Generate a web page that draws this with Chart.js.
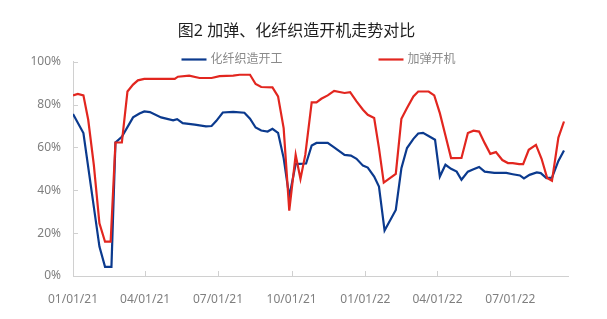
<!DOCTYPE html>
<html>
<head>
<meta charset="utf-8">
<script src="https://cdn.jsdelivr.net/npm/chart.js@4.4.1/dist/chart.umd.min.js"></script>
<style>
  html, body { margin: 0; padding: 0; background: #ffffff; }
  #wrap { width: 607px; height: 319px; }
</style>
</head>
<body>
<div id="wrap"><canvas id="c" width="607" height="319"></canvas></div>
<script>
// ---- data ----
const titleText = '图2 加弹、化纤织造开机走势对比';
const seriesNames = ['化纤织造开工', '加弹开机'];

const fiberDates = [
  '2021-01-01','2021-01-14','2021-02-03','2021-02-10','2021-02-18','2021-02-23','2021-03-03','2021-03-17',
  '2021-03-25','2021-03-31','2021-04-07','2021-04-21','2021-05-06','2021-05-11','2021-05-18','2021-06-02',
  '2021-06-16','2021-06-23','2021-06-29','2021-07-07','2021-07-20','2021-08-03','2021-08-10','2021-08-17',
  '2021-08-24','2021-09-01','2021-09-07','2021-09-14','2021-09-21','2021-09-28','2021-10-06','2021-10-19',
  '2021-10-26','2021-11-01','2021-11-15','2021-11-23','2021-12-06','2021-12-14','2021-12-21','2021-12-29',
  '2022-01-04','2022-01-12','2022-01-18','2022-01-25','2022-02-08','2022-02-15','2022-02-22','2022-03-02',
  '2022-03-08','2022-03-14','2022-03-22','2022-03-29','2022-04-04','2022-04-11','2022-04-18','2022-04-25',
  '2022-05-01','2022-05-09','2022-05-16','2022-05-23','2022-05-30','2022-06-11','2022-06-26','2022-07-04',
  '2022-07-13','2022-07-18','2022-07-25','2022-08-03','2022-08-08','2022-08-15','2022-08-22','2022-08-30',
  '2022-09-06'
];
const fiberValues = [
  75.6,66.7,13.7,4.3,4.3,62.3,65.0,74.0,
  75.8,76.8,76.5,74.0,72.6,73.2,71.3,70.6,
  69.8,70.0,72.4,76.3,76.6,76.2,73.4,69.3,
  67.9,67.4,68.7,66.8,55.0,37.0,52.2,52.5,
  60.9,62.1,62.1,60.0,56.5,56.2,54.7,51.5,
  50.6,46.4,41.7,21.2,30.8,50.3,59.7,64.0,
  66.5,66.8,65.1,63.6,46.4,51.9,50.0,48.7,
  44.9,48.7,49.8,50.9,48.7,48.1,48.1,47.5,
  46.9,45.5,47.2,48.3,48.0,45.7,45.9,53.7,
  58.6
];

const texturingDates = [
  '2021-01-01','2021-01-07','2021-01-14','2021-01-20','2021-01-27','2021-02-03','2021-02-10','2021-02-17',
  '2021-02-23','2021-03-03','2021-03-10','2021-03-17','2021-03-23','2021-03-31','2021-05-08','2021-05-12',
  '2021-05-26','2021-06-08','2021-06-23','2021-07-03','2021-07-20','2021-07-28','2021-08-10','2021-08-17',
  '2021-08-24','2021-09-07','2021-09-14','2021-09-21','2021-09-28','2021-10-06','2021-10-12','2021-10-18',
  '2021-10-26','2021-11-01','2021-11-07','2021-11-15','2021-11-23','2021-12-06','2021-12-13','2021-12-21',
  '2021-12-29','2022-01-04','2022-01-12','2022-01-18','2022-01-24','2022-02-08','2022-02-15','2022-02-22',
  '2022-03-02','2022-03-08','2022-03-21','2022-03-28','2022-04-04','2022-04-11','2022-04-18','2022-05-01',
  '2022-05-09','2022-05-16','2022-05-23','2022-05-30','2022-06-06','2022-06-13','2022-06-21','2022-06-28',
  '2022-07-04','2022-07-12','2022-07-17','2022-07-24','2022-08-02','2022-08-09','2022-08-16','2022-08-22',
  '2022-08-30','2022-09-06'
];
const texturingValues = [
  84.3,85.0,84.3,72.9,51.9,24.6,16.0,16.0,
  62.3,62.3,86.1,89.3,91.3,92.0,92.0,93.0,
  93.5,92.4,92.4,93.3,93.5,93.9,93.9,89.6,
  88.2,88.0,83.8,69.0,30.5,56.5,45.3,56.5,
  81.0,81.0,82.7,84.3,86.4,85.4,85.8,81.5,
  77.6,75.2,73.7,59.7,43.6,47.7,73.4,78.4,
  83.8,86.1,86.1,84.3,76.0,65.6,55.0,55.1,
  66.7,67.8,67.4,62.0,57.0,57.8,54.1,52.7,
  52.7,52.2,52.2,58.9,61.2,54.7,45.7,44.4,
  64.6,72.1
];

const tickDates = ['2021-01-01','2021-04-01','2021-07-01','2021-10-01','2022-01-01','2022-04-01','2022-07-01'];
const tickLabels = ['01/01/21','04/01/21','07/01/21','10/01/21','01/01/22','04/01/22','07/01/22'];
const axisEndDate = '2022-09-11';
const yTicks = [0, 20, 40, 60, 80, 100];

// ---- helpers ----
const dayOf = s => { const p = s.split('-').map(Number); return (Date.UTC(p[0], p[1]-1, p[2]) - Date.UTC(2021, 0, 1)) / 864e5; };
const toPoints = (ds, vs) => ds.map((d, i) => ({ x: dayOf(d), y: vs[i] }));
const tickDays = tickDates.map(dayOf);

const BLUE = '#0b3a8e';
const RED = '#e2261f';
const FONT = '"Noto Sans", "Noto Sans CJK SC", sans-serif';
const AXIS_COLOR = '#d0d0d0';
const LABEL_COLOR = '#7f7f7f';

// inside tick marks (Excel style)
const insideTicks = {
  id: 'insideTicks',
  afterDatasetsDraw(chart) {
    const ctx = chart.ctx, xs = chart.scales.x, ys = chart.scales.y, a = chart.chartArea;
    ctx.save();
    ctx.strokeStyle = AXIS_COLOR;
    ctx.lineWidth = 1;
    ctx.beginPath();
    xs.ticks.forEach(t => {
      const px = Math.round(xs.getPixelForValue(t.value)) + 0.5;
      ctx.moveTo(px, a.bottom); ctx.lineTo(px, a.bottom - 5);
    });
    ys.ticks.forEach(t => {
      const py = Math.round(ys.getPixelForValue(t.value)) + 0.5;
      ctx.moveTo(a.left, py); ctx.lineTo(a.left + 5, py);
    });
    ctx.stroke();
    ctx.restore();
  }
};

// legend drawn as text + line samples, centred over the plot area
const lineLegend = {
  id: 'lineLegend',
  afterDraw(chart) {
    const ctx = chart.ctx, a = chart.chartArea;
    const colors = chart.data.datasets.map(d => d.borderColor);
    const names = chart.data.datasets.map(d => d.label);
    ctx.save();
    ctx.font = '12px ' + FONT;
    ctx.textBaseline = 'middle';
    const sample = 25, gapText = 4, gapItem = 96;
    const widths = names.map(n => ctx.measureText(n).width);
    const total = widths.reduce((s, w) => s + sample + gapText + w, 0) + gapItem * (names.length - 1);
    let x = (a.left + a.right) / 2 - total / 2 - 2;
    const y = 59.5;
    names.forEach((n, i) => {
      ctx.strokeStyle = colors[i];
      ctx.lineWidth = 2.2;
      ctx.beginPath(); ctx.moveTo(x, y); ctx.lineTo(x + sample, y); ctx.stroke();
      ctx.fillStyle = '#8a8a8a';
      ctx.fillText(n, x + sample + gapText, y);
      x += sample + gapText + widths[i] + gapItem;
    });
    ctx.restore();
  }
};

new Chart(document.getElementById('c'), {
  type: 'line',
  data: {
    datasets: [
      { label: seriesNames[0], data: toPoints(fiberDates, fiberValues), borderColor: BLUE, backgroundColor: BLUE,
        borderWidth: 2.2, pointRadius: 0, tension: 0, order: 1 },
      { label: seriesNames[1], data: toPoints(texturingDates, texturingValues), borderColor: RED, backgroundColor: RED,
        borderWidth: 2.2, pointRadius: 0, tension: 0, order: 0 }
    ]
  },
  options: {
    responsive: false,
    animation: false,
    devicePixelRatio: 1,
    layout: { padding: { left: 25, right: 39, top: 0, bottom: 0 } },
    plugins: {
      legend: { display: false },
      tooltip: { enabled: false },
      title: {
        display: true, text: titleText, color: '#1e1e1e',
        font: { family: FONT, size: 16, weight: 'normal' },
        padding: { top: 22, bottom: 20.5 }
      }
    },
    scales: {
      x: {
        type: 'linear',
        min: dayOf(tickDates[0]), max: dayOf(axisEndDate),
        afterBuildTicks: s => { s.ticks = tickDays.map(v => ({ value: v })); },
        afterFit: s => { s.height = 43; },
        grid: { display: false, drawTicks: false },
        border: { display: true, color: AXIS_COLOR, width: 1 },
        ticks: {
          autoSkip: false, maxRotation: 0, padding: 16, color: LABEL_COLOR,
          font: { family: FONT, size: 12 },
          callback: v => { const i = tickDays.indexOf(v); return i >= 0 ? tickLabels[i] : ''; }
        }
      },
      y: {
        min: 0, max: 100,
        afterBuildTicks: s => { s.ticks = yTicks.map(v => ({ value: v })); },
        afterFit: s => { s.width = 48; },
        grid: { display: false, drawTicks: false },
        border: { display: true, color: AXIS_COLOR, width: 1 },
        ticks: {
          padding: 12, color: LABEL_COLOR,
          font: { family: FONT, size: 12 },
          callback: v => v + '%'
        }
      }
    }
  },
  plugins: [insideTicks, lineLegend]
});
</script>
</body>
</html>
